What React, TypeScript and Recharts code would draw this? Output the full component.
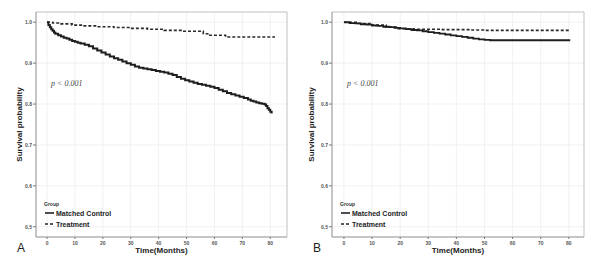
import {
  LineChart,
  Line,
  XAxis,
  YAxis,
  CartesianGrid,
  ReferenceArea,
} from "recharts";

// Panel A: Kaplan-Meier estimates
const controlMonthsA = [0, 0.5, 1, 1.5, 2, 2.5, 3, 4, 5, 6, 7, 8, 9, 10, 11, 12, 13.5, 15, 16.5, 18, 19.5, 21, 22.5, 24, 25.5, 27, 28.5, 30, 31.5, 33, 34.5, 36, 37.5, 39, 40.5, 42, 43.5, 45, 46.5, 48, 49.5, 51, 52.5, 54, 55.5, 57, 58.5, 60, 61.5, 63, 64.5, 66, 67.5, 69, 70.5, 72, 73, 74, 75, 76, 77, 78, 78.5, 79, 79.5, 80, 80.5];
const controlSurvA = [1.0, 0.993, 0.988, 0.983, 0.979, 0.975, 0.972, 0.968, 0.965, 0.962, 0.96, 0.957, 0.954, 0.952, 0.95, 0.948, 0.945, 0.941, 0.936, 0.931, 0.926, 0.921, 0.916, 0.912, 0.908, 0.904, 0.9, 0.896, 0.892, 0.889, 0.887, 0.885, 0.883, 0.881, 0.879, 0.877, 0.874, 0.871, 0.866, 0.862, 0.858, 0.855, 0.852, 0.849, 0.847, 0.845, 0.842, 0.839, 0.835, 0.831, 0.827, 0.824, 0.821, 0.818, 0.815, 0.811, 0.808, 0.806, 0.804, 0.802, 0.801, 0.799, 0.795, 0.79, 0.786, 0.781, 0.777];
const treatMonthsA = [0, 2, 5, 9, 13, 18, 24, 30, 36, 42, 49, 56, 58, 64, 81.7];
const treatSurvA = [1.0, 0.998, 0.996, 0.993, 0.991, 0.989, 0.987, 0.985, 0.983, 0.98, 0.978, 0.972, 0.968, 0.964, 0.964];

// Panel B
const controlMonthsB = [0, 2, 4, 6, 8, 10, 12, 14, 16, 18, 20, 22, 24, 26, 28, 30, 32, 34, 36, 38, 40, 42, 44, 46, 48, 50, 52, 80.5];
const controlSurvB = [1.0, 0.998, 0.997, 0.995, 0.994, 0.992, 0.991, 0.989, 0.988, 0.986, 0.985, 0.983, 0.981, 0.98, 0.978, 0.976, 0.974, 0.972, 0.97, 0.968, 0.966, 0.964, 0.962, 0.96, 0.958, 0.957, 0.956, 0.956];
const treatMonthsB = [0, 5, 10, 15, 19, 25, 35, 45, 50, 80.5];
const treatSurvB = [1.0, 0.997, 0.993, 0.988, 0.984, 0.983, 0.982, 0.981, 0.98, 0.98];

const xTicks = [0, 10, 20, 30, 40, 50, 60, 70, 80];
const yTicks = [0.5, 0.6, 0.7, 0.8, 0.9, 1.0];
const groupLabels = ["Matched Control", "Treatment"];
const pValueText = "p < 0.001";

const toRows = (months: number[], surv: number[]) =>
  months.map((m, i) => ({ month: m, surv: surv[i] }));

const Y_DOMAIN: [number, number] = [0.475, 1.025];
const tickStyle = {
  fontSize: 5,
  fontWeight: "bold" as const,
  fill: "#555",
  fontFamily: "Liberation Sans, Arial, sans-serif",
};

type PanelProps = {
  width: number;
  yAxisWidth: number;
  marginRight: number;
  xDomain: [number, number];
  control: { month: number; surv: number }[];
  treatment: { month: number; surv: number }[];
  controlWidth: number;
};

const SurvivalPanel = ({
  width,
  yAxisWidth,
  marginRight,
  xDomain,
  control,
  treatment,
  controlWidth,
}: PanelProps) => (
  <LineChart
    width={width}
    height={255}
    margin={{ top: 12, right: marginRight, bottom: 0, left: 0 }}
  >
    <CartesianGrid stroke="#ededed" strokeWidth={0.8} />
    <XAxis
      type="number"
      dataKey="month"
      domain={xDomain}
      ticks={xTicks}
      allowDataOverflow
      height={18}
      tick={tickStyle}
      tickSize={2}
      tickMargin={2}
      tickLine={{ stroke: "#777" }}
      axisLine={{ stroke: "#aaa" }}
    />
    <YAxis
      type="number"
      dataKey="surv"
      domain={Y_DOMAIN}
      ticks={yTicks}
      allowDataOverflow
      width={yAxisWidth}
      tick={tickStyle}
      tickFormatter={(v: number) => v.toFixed(1)}
      tickSize={3}
      tickMargin={1}
      tickLine={{ stroke: "#777" }}
      axisLine={{ stroke: "#aaa" }}
    />
    <ReferenceArea
      x1={xDomain[0]}
      x2={xDomain[1]}
      y1={Y_DOMAIN[0]}
      y2={Y_DOMAIN[1]}
      fill="none"
      stroke="#c8c8c8"
      strokeWidth={1}
    />
    <Line
      data={treatment}
      dataKey="surv"
      type="stepAfter"
      stroke="#2a2a2a"
      strokeWidth={1.6}
      strokeDasharray="3 2"
      dot={false}
      isAnimationActive={false}
    />
    <Line
      data={control}
      dataKey="surv"
      type="stepAfter"
      stroke="#1e1e1e"
      strokeWidth={controlWidth}
      dot={false}
      isAnimationActive={false}
    />
  </LineChart>
);

const sans = "Liberation Sans, Arial, sans-serif";

// legend, p-value, axis titles and panel letters
const PanelText = ({
  plotLeft,
  plotRight,
  yTitleX,
  letterX,
  letter,
  pX,
}: {
  plotLeft: number;
  plotRight: number;
  yTitleX: number;
  letterX: number;
  letter: string;
  pX: number;
}) => (
  <g>
    <text
      x={pX}
      y={86}
      fontFamily="Liberation Serif, Times New Roman, serif"
      fontStyle="italic"
      fontSize={8}
      fill="#444"
    >
      {pValueText}
    </text>
    <text x={plotLeft + 8} y={206} fontFamily={sans} fontSize={5} fontWeight="bold" fill="#333">
      Group
    </text>
    <line x1={plotLeft + 9} x2={plotLeft + 18} y1={213} y2={213} stroke="#222" strokeWidth={1.6} />
    <text x={plotLeft + 20} y={215.5} fontFamily={sans} fontSize={7} fontWeight="bold" fill="#222">
      {groupLabels[0]}
    </text>
    <line
      x1={plotLeft + 9}
      x2={plotLeft + 18}
      y1={224}
      y2={224}
      stroke="#222"
      strokeWidth={1.4}
      strokeDasharray="3 2"
    />
    <text x={plotLeft + 20} y={226.5} fontFamily={sans} fontSize={7} fontWeight="bold" fill="#222">
      {groupLabels[1]}
    </text>
    <text
      x={yTitleX}
      y={124.5}
      transform={`rotate(-90 ${yTitleX} 124.5)`}
      textAnchor="middle"
      dominantBaseline="central"
      fontFamily={sans}
      fontSize={8}
      fontWeight="bold"
      fill="#222"
    >
      Survival probability
    </text>
    <text
      x={(plotLeft + plotRight) / 2}
      y={253}
      textAnchor="middle"
      fontFamily={sans}
      fontSize={8}
      fontWeight="bold"
      fill="#222"
    >
      Time(Months)
    </text>
    <text x={letterX} y={252} fontFamily={sans} fontSize={12} fill="#222">
      {letter}
    </text>
  </g>
);

const App = () => {
  return (
    <div
      style={{
        position: "absolute",
        left: 0,
        top: 0,
        width: 599,
        height: 255,
        background: "#fff",
        overflow: "hidden",
      }}
    >
      <div style={{ position: "absolute", left: 0, top: 0 }}>
        <SurvivalPanel
          width={300}
          yAxisWidth={36}
          marginRight={13}
          xDomain={[-3.95, 86]}
          control={toRows(controlMonthsA, controlSurvA)}
          treatment={toRows(treatMonthsA, treatSurvA)}
          controlWidth={2}
        />
      </div>
      <div style={{ position: "absolute", left: 300, top: 0 }}>
        <SurvivalPanel
          width={299}
          yAxisWidth={32}
          marginRight={15}
          xDomain={[-4.25, 85.4]}
          control={toRows(controlMonthsB, controlSurvB)}
          treatment={toRows(treatMonthsB, treatSurvB)}
          controlWidth={1.8}
        />
      </div>
      <svg
        width={599}
        height={255}
        style={{ position: "absolute", left: 0, top: 0, pointerEvents: "none" }}
      >
        <PanelText plotLeft={36} plotRight={287} yTitleX={19.5} letterX={17} letter="A" pX={51} />
        <PanelText plotLeft={332} plotRight={584} yTitleX={311} letterX={313} letter="B" pX={347} />
      </svg>
    </div>
  );
};

export default App;
